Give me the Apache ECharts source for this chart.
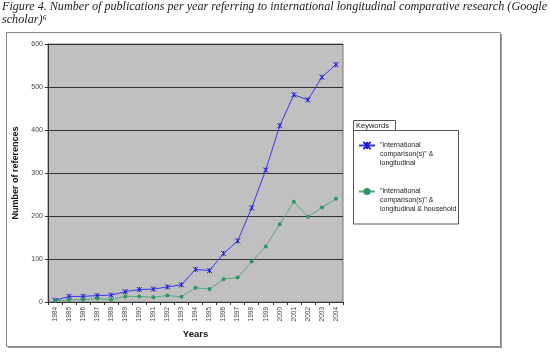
<!DOCTYPE html>
<html><head><meta charset="utf-8">
<script src="https://cdn.jsdelivr.net/npm/echarts@6/dist/echarts.min.js"></script>
<style>html,body{margin:0;padding:0;background:#fff}#c{width:550px;height:359px}</style>
</head><body><div id="c"></div>
<script>
const years = ['1984','1985','1986','1987','1988','1989','1990','1991','1992','1993','1994','1995','1996','1997','1998','1999','2000','2001','2002','2003','2004'];
const seriesNames = ['"international comparison(s)" & longitudinal', '"international comparison(s)" & longitudinal & household'];
const longitudinal = [4,13,13,15,16,24,29,30,35,40,76,73,113,142,219,307,410,482,470,523,552];
const household = [3,5,5,8,5,13,13,11,15,12,33,30,53,57,94,129,181,233,198,220,240];
const yTicks = [0,100,200,300,400,500,600];
const legendTitle = 'Keywords';
const titleText = 'Figure 4. Number of publications per year referring to international longitudinal comparative research (Google\nscholar)\u2076';

const legendLabels = {};
legendLabels[seriesNames[0]] = '\n\n"international\ncomparison(s)" &\nlongitudinal';
legendLabels[seriesNames[1]] = '\n\n"international\ncomparison(s)" &\nlongitudinal & household';

const chart = echarts.init(document.getElementById('c'));
chart.setOption({
  animation: false,
  backgroundColor: '#fff',
  title: {
    text: titleText, left: 2, top: 1, padding: 0,
    textStyle: {fontFamily: 'Liberation Serif', fontStyle: 'italic', fontWeight: 'normal', fontSize: 12.15, color: '#222', lineHeight: 12.5}
  },
  graphic: [
    {type: 'rect', shape: {x: 8, y: 34, width: 494, height: 314}, style: {fill: '#999'}, z: -10, silent: true},
    {type: 'rect', shape: {x: 6.5, y: 32.5, width: 494, height: 314}, style: {fill: '#fff', stroke: '#888', lineWidth: 1}, z: -9, silent: true},
    {type: 'rect', shape: {x: 353.5, y: 130.5, width: 105, height: 93.5}, style: {fill: '#fff', stroke: '#555', lineWidth: 1}, z: -8, silent: true},
    {type: 'rect', shape: {x: 353.5, y: 120.5, width: 42, height: 10}, style: {fill: '#fff', stroke: '#555', lineWidth: 1}, z: 5},
    {type: 'text', x: 356, y: 126, style: {text: legendTitle, fontFamily: 'Liberation Sans', fontSize: 7.5, fill: '#222', verticalAlign: 'middle'}, z: 6}
  ],
  legend: {
    orient: 'vertical', left: 358, top: 123,
    padding: 0, itemGap: 1, itemWidth: 16, itemHeight: 9,
    formatter: n => legendLabels[n],
    textStyle: {fontFamily: 'Liberation Sans', fontSize: 7, color: '#222', lineHeight: 9}
  },
  grid: {left: 48, right: 207, top: 44, bottom: 57, show: true, backgroundColor: '#c0c0c0', borderColor: '#777', borderWidth: 1},
  xAxis: {
    type: 'category', data: years, boundaryGap: true,
    name: 'Years', nameLocation: 'middle', nameGap: 24,
    nameTextStyle: {fontFamily: 'Liberation Sans', fontWeight: 'bold', fontSize: 9.5, color: '#111'},
    axisLine: {lineStyle: {color: '#333'}},
    axisTick: {show: true, length: 3, lineStyle: {color: '#333'}, interval: 0},
    axisLabel: {rotate: 90, interval: 0, fontFamily: 'Liberation Sans', fontSize: 6.5, color: '#444', margin: 5}
  },
  yAxis: {
    type: 'value', min: 0, max: 600, interval: 100,
    name: 'Number of references', nameLocation: 'middle', nameGap: 19, nameRotate: 90,
    nameTextStyle: {fontFamily: 'Liberation Sans', fontWeight: 'bold', fontSize: 9, color: '#111'},
    axisLine: {show: true, lineStyle: {color: '#333'}},
    axisTick: {show: true, length: 3, lineStyle: {color: '#333'}},
    axisLabel: {fontFamily: 'Liberation Sans', fontSize: 7, color: '#444', margin: 5, formatter: v => yTicks.includes(v) ? String(v) : ''},
    splitLine: {lineStyle: {color: '#333', width: 1}}
  },
  series: [
    {name: seriesNames[0], type: 'line', data: longitudinal,
     symbol: 'path://M0,0L10,10M10,0L0,10M5,0L5,10', symbolSize: 5,
     lineStyle: {color: '#3838f0', width: 1},
     itemStyle: {color: 'rgba(0,0,0,0)', borderColor: '#1a1ae0', borderWidth: 1}},
    {name: seriesNames[1], type: 'line', data: household,
     symbol: 'circle', symbolSize: 4,
     lineStyle: {color: '#5aa884', width: 1},
     itemStyle: {color: '#2e9660', borderWidth: 0}}
  ]
});
</script></body></html>
